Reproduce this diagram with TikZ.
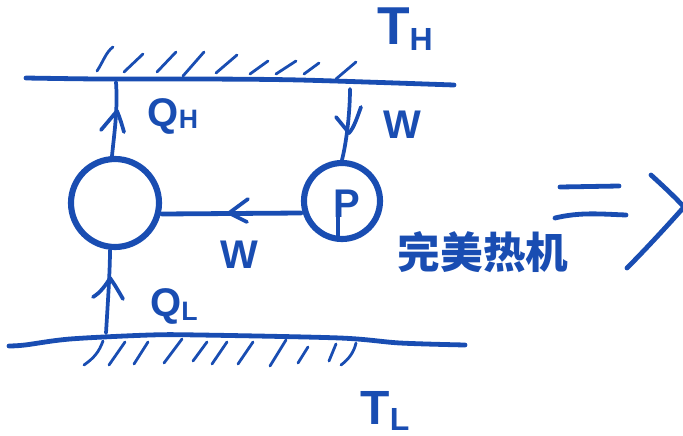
\documentclass[tikz,border=0pt]{standalone}
\usepackage{fontspec}
\setmainfont{Liberation Sans}
\newfontfamily\cjk{Noto Sans CJK SC}
\definecolor{ink}{RGB}{25,77,178}
\newcommand{\subtxt}[3]{\raisebox{#1}{\fontsize{#2}{#2}\selectfont #3}}
\tikzset{
  thick line/.style={draw=ink,line width=3.6pt,line cap=round,line join=round},
  mid line/.style={draw=ink,line width=2.8pt,line cap=round,line join=round},
  hatch/.style={draw=ink,line width=2.1pt,line cap=round},
  round box/.style={circle,draw=ink,line width=4.6pt,inner sep=0pt},
  word/.style={text=ink,inner sep=0pt,font=\fontsize{30}{30}\selectfont\bfseries}
}
\begin{document}
\begin{tikzpicture}[x=0.75pt,y=-0.75pt]
\useasboundingbox (0,0) rectangle (683,436);
% reservoirs
\draw[thick line] plot[smooth,tension=0.5] coordinates {(26,78) (100,79) (200,79) (300,80) (454,85)};
\draw[thick line] plot[smooth,tension=0.5] coordinates {(9,346) (25,345) (70,339) (150,335) (200,335) (340,338) (400,343) (465,345)};
% hatches
\draw[hatch] (97,71) .. controls (103,62) and (106,52) .. (113,47);
\foreach \a/\b/\c/\d in {124/72/143/54,157/72/176/52,183/76/204/52,216/73/237/55,250/74/268/61,276/74/296/61,304/74/319/63,336/79/356/62,
  109/365/125/342,134/364/148/342,164/363/182/339,193/361/207/342,212/364/227/342,238/364/253/342,270/366/286/340,298/363/308/347,329/361/336/344}
  {\draw[hatch] (\a,\b) -- (\c,\d);}
\draw[hatch] (103,341) .. controls (99,352) and (94,358) .. (84,365);
\draw[hatch] (356,343) .. controls (354,352) and (349,359) .. (341,365);
% machines
\node[round box,minimum width=66pt] (eng) at (115,203) {};
\node[round box,minimum width=57pt] (pump) at (342,201) {};
\coordinate (qhend) at (116,82);
\coordinate (wtop) at (350,89);
\coordinate (qlend) at (106,333);
% connectors
\draw[mid line] (eng.north) ++(-3,0) .. controls (114,135) and (118,110) .. (qhend);
\draw[mid line] (wtop) .. controls (350,110) and (347,140) .. (pump.north);
\draw[thick line] (pump.west |- 0,213) -- (eng.east |- 0,214);
\draw[mid line] (qlend) .. controls (108,300) and (110,270) .. (110,250);
% arrowheads
\draw[mid line] (101,130) -- (117,111) .. controls (120,118) and (122,125) .. (124,132);
\draw[mid line] (336,117) -- (349,133) .. controls (354,128) and (358,115) .. (361,107);
\draw[mid line] (248,199) -- (229,213) -- (247,222);
\draw[mid line] (93,297) .. controls (100,293) and (106,285) .. (110,278) .. controls (115,285) and (119,292) .. (123,299);
% pump stem
\draw[mid line] (338,240) -- (338,205);
\node[word,font=\fontsize{30}{30}\selectfont\bfseries] (p) at (347,204) {P};
% labels
\node[word,font=\fontsize{40}{40}\selectfont\bfseries] (th) at (405,29) {T\subtxt{-4pt}{24}{H}};
\node[word] (qh) at (173,116) {Q\subtxt{-2pt}{20}{H}};
\node[word] (w1) at (402,125) {W};
\node[word] (w2) at (239,255) {W};
\node[word] (ql) at (174,306) {Q\subtxt{-3pt}{20}{L}};
\node[word,font=\fontsize{36}{36}\selectfont\bfseries] (tl) at (385,411) {T\subtxt{-5pt}{24}{L}};
\node[word,font=\fontsize{32}{32}\selectfont\cjk\bfseries] (cap) at (483,252) {完美热机};
% equals and chevron
\draw[thick line] (560,187) -- (619,186);
\draw[thick line] (555,218) .. controls (580,212) and (600,214) .. (626,215);
\draw[thick line] (651,175) .. controls (662,185) and (675,197) .. (684,207) .. controls (668,225) and (645,250) .. (627,268);
\end{tikzpicture}
\end{document}
